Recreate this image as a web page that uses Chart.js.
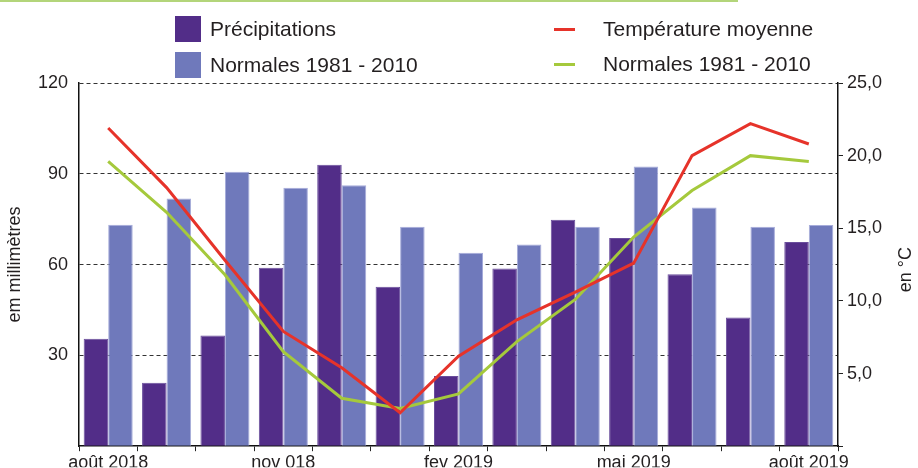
<!DOCTYPE html>
<html lang="fr">
<head>
<meta charset="utf-8">
<script src="https://cdn.jsdelivr.net/npm/chart.js@4/dist/chart.umd.min.js"></script>
<style>
  body { margin: 0; background: #fff; }
  #wrap { position: relative; width: 918px; height: 468px; font-family: "Liberation Sans", Arial, sans-serif; color: #231f20; }
  #topline { position: absolute; left: 0; top: 0; width: 738px; height: 2px; background: #b3d57a; }
  .key { position: absolute; font-size: 21px; line-height: 26px; white-space: nowrap; }
  .sw { position: absolute; }
</style>
</head>
<body>
<div id="wrap">
  <canvas id="chart" width="918" height="468"></canvas>
  <div id="topline"></div>
  <div id="legend"></div>
</div>
<script>
// months, août 2018 -> août 2019
const months = ['août 2018', 'sep 2018', 'oct 2018', 'nov 2018', 'déc 2018', 'jan 2019', 'fev 2019',
  'mar 2019', 'avr 2019', 'mai 2019', 'juin 2019', 'juil 2019', 'août 2019'];
const tickLabels = ['août 2018', '', '', 'nov 018', '', '', 'fev 2019', '', '', 'mai 2019', '', '', 'août 2019'];

// mm
const precip = [35.5, 21, 36.6, 59, 93, 52.7, 23.2, 58.7, 74.8, 68.8, 56.8, 42.5, 67.5];
const precipNorm = [73.2, 81.8, 90.7, 85.4, 86.2, 72.5, 63.9, 66.6, 72.5, 92.4, 78.9, 72.5, 73.1];

// °C
const temp = [21.9, 17.8, 12.8, 7.9, 5.4, 2.3, 6.2, 8.7, 10.6, 12.6, 20.0, 22.2, 20.8];
const tempNorm = [19.6, 16.1, 11.8, 6.5, 3.3, 2.6, 3.6, 7.2, 10.1, 14.4, 17.6, 20.0, 19.6];

const dark = '#522d88';
const light = '#6f79bb';
const red = '#e6332a';
const green = '#a5c93c';
const txt = '#231f20';

Chart.defaults.font.family = '"Liberation Sans", Arial, sans-serif';
Chart.defaults.color = txt;

// legend, 2 columns x 2 rows
const legendItems = [
  { label: 'Précipitations', color: dark, box: true, x: 175, y: 16 },
  { label: 'Normales 1981 - 2010', color: light, box: true, x: 175, y: 52 },
  { label: 'Température moyenne', color: red, box: false, x: 554, y: 16 },
  { label: 'Normales 1981 - 2010', color: green, box: false, x: 554, y: 51 },
];
const legend = document.getElementById('legend');
legendItems.forEach(it => {
  const sw = document.createElement('div');
  sw.className = 'sw';
  sw.style.background = it.color;
  if (it.box) {
    sw.style.left = it.x + 'px'; sw.style.top = it.y + 'px';
    sw.style.width = '26px'; sw.style.height = '26px';
  } else {
    sw.style.left = it.x + 'px'; sw.style.top = (it.y + 12) + 'px';
    sw.style.width = '21px'; sw.style.height = '3px';
  }
  legend.appendChild(sw);
  const t = document.createElement('div');
  t.className = 'key';
  t.textContent = it.label;
  t.style.left = (it.box ? it.x + 35 : it.x + 49) + 'px';
  t.style.top = it.y + 'px';
  legend.appendChild(t);
});

// right axis title reads bottom to top, like the left one
const rightTitle = {
  id: 'rightTitle',
  afterDraw(chart) {
    const ctx = chart.ctx;
    const a = chart.chartArea;
    ctx.save();
    ctx.translate(906, (a.top + a.bottom) / 2 + 5);
    ctx.rotate(-Math.PI / 2);
    ctx.font = '18px "Liberation Sans", Arial, sans-serif';
    ctx.fillStyle = txt;
    ctx.textAlign = 'center';
    ctx.textBaseline = 'middle';
    ctx.fillText('en °C', 0, 0);
    ctx.restore();
  }
};

new Chart(document.getElementById('chart'), {
  type: 'bar',
  data: {
    labels: months,
    datasets: [
      {
        type: 'line', label: 'Température moyenne', data: temp, yAxisID: 'y1',
        borderColor: red, borderWidth: 3, pointRadius: 0, tension: 0, order: 1,
      },
      {
        type: 'line', label: 'Normales 1981 - 2010', data: tempNorm, yAxisID: 'y1',
        borderColor: green, borderWidth: 3, pointRadius: 0, tension: 0, order: 1,
      },
      {
        label: 'Précipitations', data: precip, yAxisID: 'y',
        backgroundColor: dark, borderColor: '#6a4e9c', borderWidth: 1, borderSkipped: 'bottom',
        categoryPercentage: 0.84, barPercentage: 1, order: 2,
      },
      {
        label: 'Normales 1981 - 2010', data: precipNorm, yAxisID: 'y',
        backgroundColor: light, borderColor: '#a6acda', borderWidth: 1, borderSkipped: 'bottom',
        categoryPercentage: 0.84, barPercentage: 1, order: 2,
      },
    ],
  },
  options: {
    responsive: false,
    animation: false,
    layout: { padding: { top: 83, left: 0, right: 0, bottom: 0 } },
    plugins: { legend: { display: false }, tooltip: { enabled: false } },
    scales: {
      x: {
        offset: true,
        grid: { offset: true, drawOnChartArea: false, drawTicks: true, tickLength: 5, color: '#222', lineWidth: 1 },
        border: { color: '#111', width: 1.5 },
        ticks: {
          autoSkip: false, maxRotation: 0, padding: 1,
          font: { size: 18 },
          callback: (v, i) => tickLabels[i],
        },
        afterFit: (s) => { s.height = 21; },
      },
      y: {
        position: 'left', min: 0, max: 120,
        ticks: { stepSize: 30, padding: 11, font: { size: 18 }, callback: v => v === 0 ? '' : v },
        grid: {
          drawTicks: false,
          color: (c) => c.tick.value === 0 ? 'rgba(0,0,0,0)' : '#333',
          lineWidth: 1,
        },
        border: { color: '#111', width: 1.5, dash: [4, 3] },
        title: { display: true, text: 'em millimètres', font: { size: 18 }, padding: { top: 4, bottom: 0 } },
        afterFit: (s) => { s.width = 79; },
      },
      y1: {
        position: 'right', min: 0, max: 25,
        ticks: {
          stepSize: 5, padding: 4, font: { size: 18 },
          callback: v => v === 0 ? '' : v.toFixed(1).replace('.', ','),
        },
        grid: { drawOnChartArea: false, drawTicks: true, tickLength: 5, color: '#222' },
        border: { color: '#111', width: 1.5 },
        afterFit: (s) => { s.width = 80; },
      },
    },
  },
  plugins: [rightTitle],
});
</script>
</body>
</html>
